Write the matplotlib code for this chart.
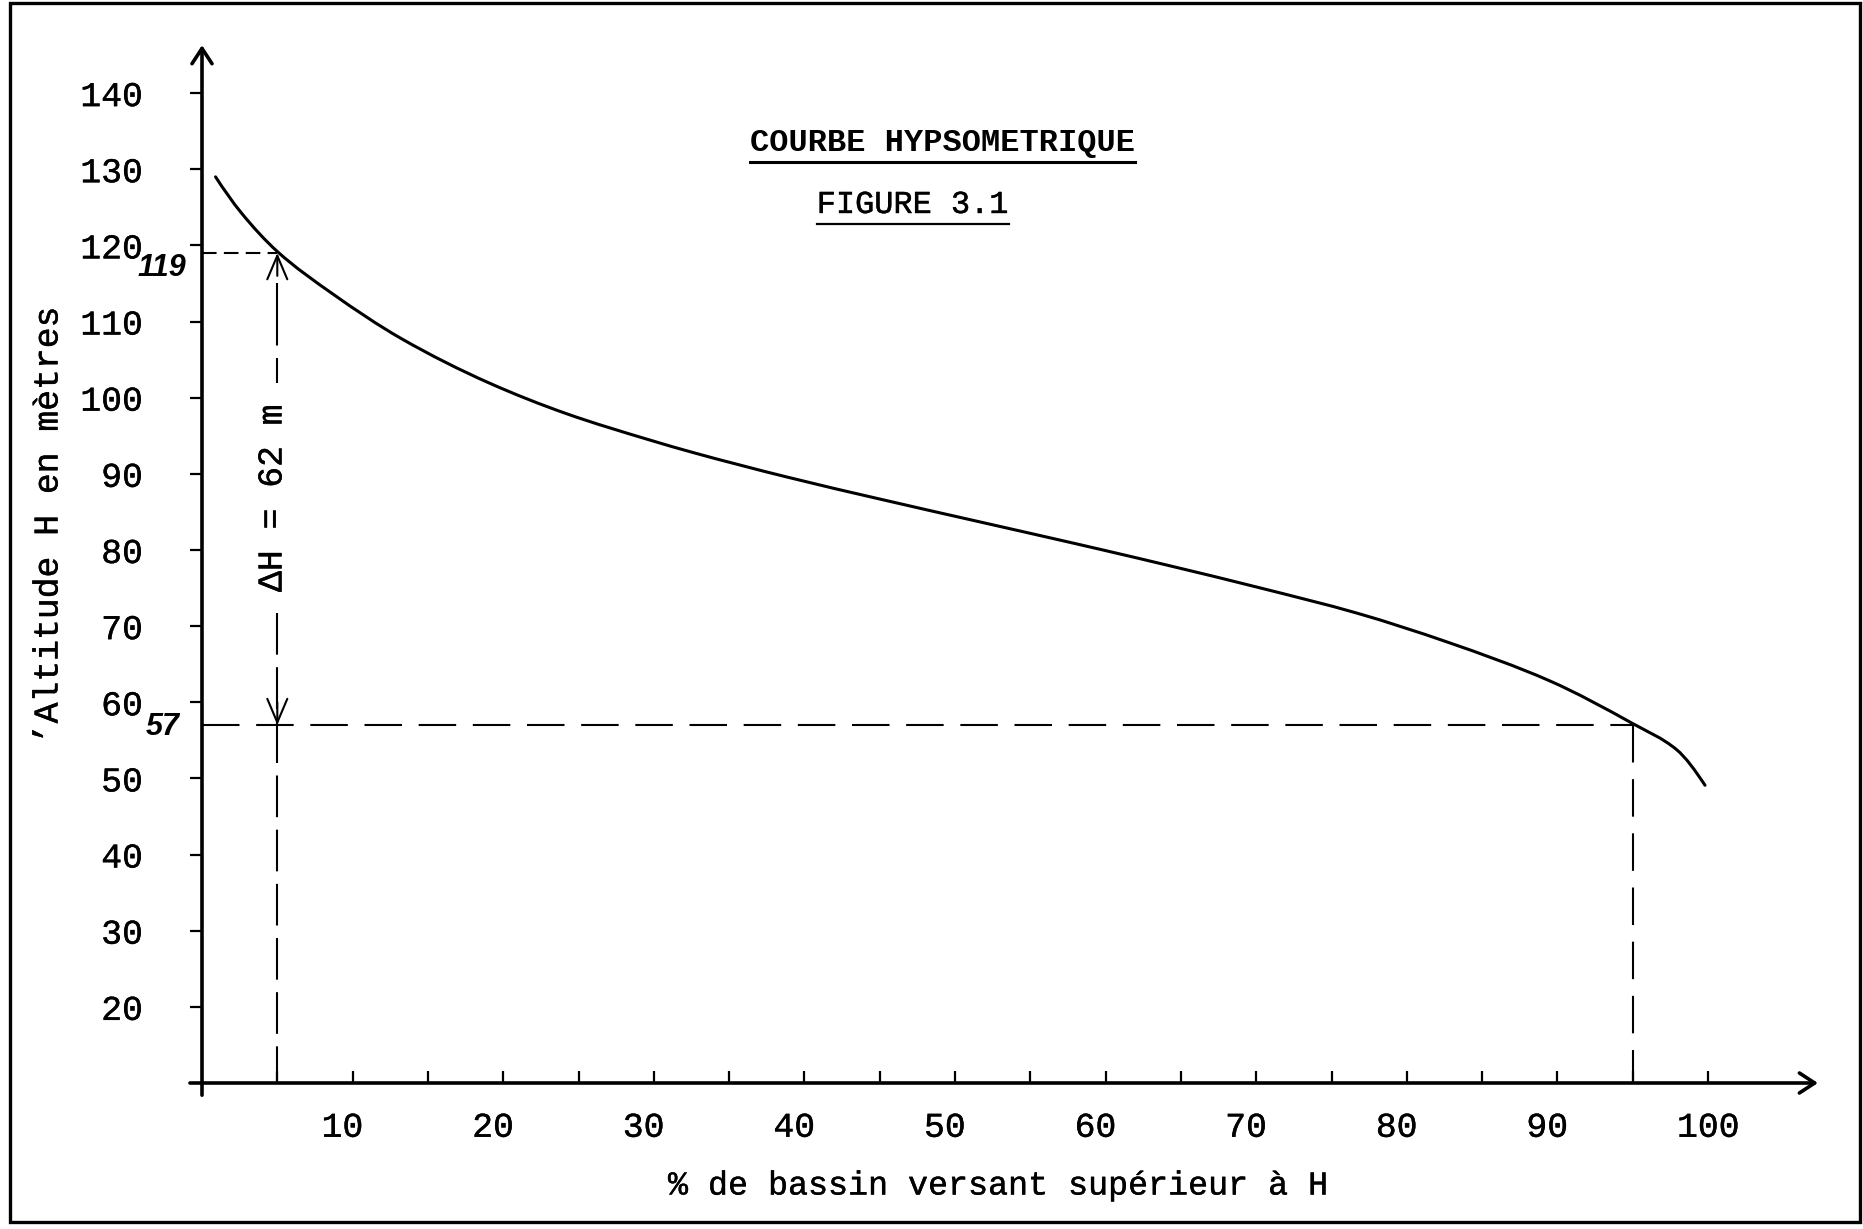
import numpy as np
import matplotlib
matplotlib.use("Agg")
import matplotlib.pyplot as plt
import matplotlib.patheffects as pe
from matplotlib.lines import Line2D
from matplotlib.patches import Rectangle, PathPatch
from matplotlib.path import Path
from matplotlib.transforms import ScaledTranslation

# hypsometric curve: % of catchment above H, altitude H (m)
pct = [0.9, 2.6, 5.0, 8.7, 13.2, 19.1, 24.2, 29.8, 32.6, 38.8, 45.2, 51.4,
       56.3, 59.6, 64.1, 70.3, 76.7, 82.7, 89.5, 95.0, 97.9, 99.8]
alt = [129.0, 124.3, 119.2, 113.6, 107.8, 101.9, 97.9, 94.4, 92.8, 89.6, 86.6, 83.8,
       81.6, 80.1, 78.0, 75.0, 71.7, 67.9, 62.8, 57.2, 53.8, 49.1]

# altitudes read at 5 % and 95 %
pct_high, h_high = 5, 119
pct_low, h_low = 95, 57
delta_h = h_high - h_low

x_major = [10, 20, 30, 40, 50, 60, 70, 80, 90, 100]
x_minor = [5, 15, 25, 35, 45, 55, 65, 75, 85, 95]
y_major = [20, 30, 40, 50, 60, 70, 80, 90, 100, 110, 120, 130, 140]

W, H = 1863, 1229
mono = "Liberation Mono"
ink = [pe.withStroke(linewidth=0.3, foreground="k")]


def px(x, y):
    # pixel position (from top left) -> figure fraction
    return x / W, 1 - y / H


def smooth_path(xs, ys):
    # monotone cubic (PCHIP slopes) through the points, as Bezier segments
    xs = np.asarray(xs, float)
    ys = np.asarray(ys, float)
    h = np.diff(xs)
    d = np.diff(ys) / h
    m = np.zeros_like(xs)
    for i in range(1, len(xs) - 1):
        if d[i - 1] * d[i] > 0:
            w1 = 2 * h[i] + h[i - 1]
            w2 = h[i] + 2 * h[i - 1]
            m[i] = (w1 + w2) / (w1 / d[i - 1] + w2 / d[i])
    m[0] = ((2 * h[0] + h[1]) * d[0] - h[0] * d[1]) / (h[0] + h[1])
    m[-1] = ((2 * h[-1] + h[-2]) * d[-1] - h[-1] * d[-2]) / (h[-1] + h[-2])
    verts = [(xs[0], ys[0])]
    codes = [Path.MOVETO]
    for i in range(len(h)):
        verts += [(xs[i] + h[i] / 3, ys[i] + m[i] * h[i] / 3),
                  (xs[i + 1] - h[i] / 3, ys[i + 1] - m[i + 1] * h[i] / 3),
                  (xs[i + 1], ys[i + 1])]
        codes += [Path.CURVE4] * 3
    return Path(verts, codes)


fig = plt.figure(figsize=(W / 100, H / 100), dpi=100)
ax = fig.add_axes([202 / W, (H - 1083) / H, 1626.5 / W, 1039.4 / H])
ax.set_xlim(0, 108)
ax.set_ylim(10, 146.5)
for s in ax.spines.values():
    s.set_visible(False)

# axes drawn as arrows
axis_arrow = dict(arrowstyle="->,head_length=0.55,head_width=0.36", lw=2.6,
                  color="k", mutation_scale=20, shrinkA=0, shrinkB=0)
ax.annotate("", xy=(0, 146.3), xytext=(0, 8.4), annotation_clip=False,
            arrowprops=axis_arrow)
ax.annotate("", xy=(107.3, 10), xytext=(-0.8, 10), annotation_clip=False,
            arrowprops=axis_arrow)

ax.set_xticks(x_major)
ax.set_xticks(x_minor, minor=True)
ax.set_yticks(y_major)
ax.tick_params(axis="x", which="both", direction="in", length=8.5, width=1.6,
               pad=20, labelsize=25)
ax.tick_params(axis="y", direction="out", length=8.5, width=1.6, pad=34,
               labelsize=25)
shift = ScaledTranslation(-31 / 100, 0, fig.dpi_scale_trans)
for lab in ax.get_xticklabels():
    lab.set_fontfamily(mono)
    lab.set_ha("left")
    lab.set_transform(lab.get_transform() + shift)
    lab.set_path_effects(ink)
for lab in ax.get_yticklabels():
    lab.set_fontfamily(mono)
    lab.set_path_effects(ink)

# the curve
ax.add_patch(PathPatch(smooth_path(pct, alt), fill=False, lw=2.2, ec="k",
                       capstyle="round"))

# reading lines
ax.plot([0, pct_high], [h_high, h_high], color="k", lw=1.5, ls=(0, (7, 3.5)))
ax.plot([0, pct_low], [h_low, h_low], color="k", lw=1.5, ls=(0, (18, 8)))
ax.plot([pct_low, pct_low], [h_low, 10], color="k", lw=1.5, ls=(0, (18, 8)))
ax.plot([pct_high, pct_high], [115.0, 101.9], color="k", lw=1.5, ls=(0, (30, 6)))
ax.plot([pct_high, pct_high], [71.7, 10], color="k", lw=1.5, ls=(0, (20, 6)))

head = dict(arrowstyle="->,head_length=0.85,head_width=0.36", lw=1.5,
            color="k", mutation_scale=20, shrinkA=0, shrinkB=0)
ax.annotate("", xy=(pct_high, h_high), xytext=(pct_high, h_high - 3), arrowprops=head)
ax.annotate("", xy=(pct_high, h_low), xytext=(pct_high, h_low + 3), arrowprops=head)

fig.text(*px(272, 498), f"\u0394H = {delta_h} m", rotation=90, ha="center",
         va="center", fontsize=25, family=mono, path_effects=ink)

# values read on the curve
fig.text(*px(162, 268), str(h_high), ha="center", va="center", fontsize=22,
         family="Liberation Sans", weight="bold", style="italic")
fig.text(*px(163, 727), str(h_low), ha="center", va="center", fontsize=22,
         family="Liberation Sans", weight="bold", style="italic")

# titles
t1 = fig.text(*px(942, 143), "COURBE HYPSOMETRIQUE", ha="center", va="center",
              fontsize=23, family=mono, weight="bold")
t2 = fig.text(*px(913, 205), "FIGURE 3.1", ha="center", va="center",
              fontsize=23, family=mono, path_effects=ink)

fig.text(*px(998, 1186), "% de bassin versant supérieur à H", ha="center",
         va="center", fontsize=24, family=mono, path_effects=ink)
fig.text(*px(48, 525), "\u2019Altitude H en mètres", rotation=90, ha="center",
         va="center", fontsize=25, family=mono, path_effects=ink)

# underline the titles
fig.canvas.draw()
rend = fig.canvas.get_renderer()
for t, lw in ((t1, 2.2), (t2, 1.6)):
    bb = t.get_window_extent(rend)
    y = bb.y0 - 4
    fig.add_artist(Line2D([bb.x0 / W, bb.x1 / W], [y / H, y / H],
                          transform=fig.transFigure, color="k", lw=lw))

# page frame
fig.add_artist(Rectangle(px(10, 1222), 1850 / W, 1219 / H, transform=fig.transFigure,
                         fill=False, lw=2.4, color="k"))

fig.savefig("out.png", dpi=100)
